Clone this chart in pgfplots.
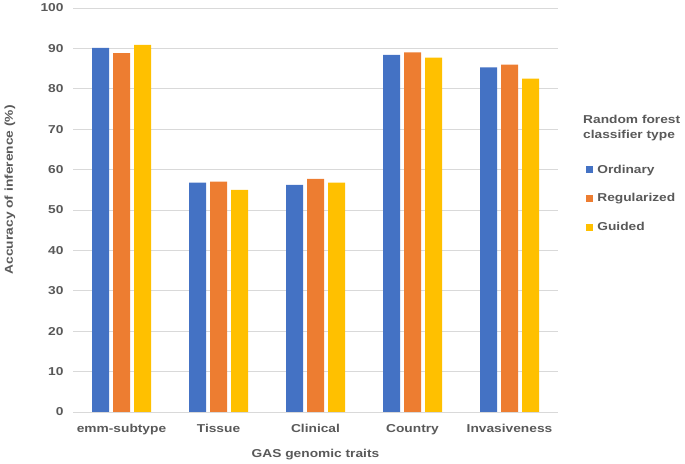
\documentclass[border=0pt]{standalone}
\usepackage{pgfplots}
\pgfplotsset{compat=1.18}
\usepackage{fontspec}
\setmainfont{Liberation Sans}[FakeStretch=1.2]
\definecolor{cblue}{HTML}{4472C4}
\definecolor{corange}{HTML}{ED7D31}
\definecolor{cyellow}{HTML}{FFC000}
\definecolor{cgrid}{HTML}{D9D9D9}
\definecolor{ctext}{HTML}{595959}
\newcommand{\lf}{\bfseries\fontsize{11.5}{13.5}\selectfont}
\begin{document}
\begin{tikzpicture}
\path[use as bounding box] (0bp,0bp) rectangle (685bp,464bp);
\begin{axis}[
  at={(73bp,52bp)}, anchor=south west,
  scale only axis, width=485bp, height=404bp,
  xmin=-0.5, xmax=4.5, ymin=0, ymax=100,
  ybar=4bp, bar width=17bp,
  axis x line*=bottom, axis y line*=left,
  y axis line style={draw=none},
  x axis line style={draw=cgrid, line width=0.75bp, -},
  major tick length=0pt,
  ymajorgrids, grid style={cgrid, line width=0.75bp},
  ytick={0,10,...,100},
  xtick={0,1,2,3,4},
  xticklabels={emm-subtype,Tissue,Clinical,Country,Invasiveness},
  /pgf/number format/assume math mode=true,
  ticklabel style={font=\lf, text=ctext},
  yticklabel style={xshift=-6bp},
  xticklabel style={yshift=-9bp},
  xlabel={GAS genomic traits},
  ylabel={Accuracy of inference (\%)},
  label style={font=\lf, text=ctext},
  xlabel style={at={(axis description cs:0.5,-0.0)}, anchor=center, yshift=-43bp},
  ylabel style={at={(axis description cs:-0.13,0.55)}, anchor=center, rotate=0},
  legend style={at={(axis description cs:1.058,0.615)}, anchor=north west, draw=none, fill=none,
    font=\lf, text=ctext, inner sep=0pt,
    row sep=17bp, nodes={inner sep=1bp, anchor=west}},
  legend cell align=left,
  legend image code/.code={\fill[#1] (0bp,-3.5bp) rectangle (7bp,3.5bp); \path (10bp,0bp);},
]
\addplot[fill=cblue, draw=none] coordinates {(0,90.1) (1,56.8) (2,56.2) (3,88.4) (4,85.3)};
\addplot[fill=corange, draw=none] coordinates {(0,88.8) (1,57.0) (2,57.7) (3,89.0) (4,86.0)};
\addplot[fill=cyellow, draw=none] coordinates {(0,90.9) (1,55.0) (2,56.8) (3,87.7) (4,82.5)};
\legend{Ordinary,Regularized,Guided}
\end{axis}
\node[anchor=west, text=ctext, font=\lf, inner sep=0pt] at (583bp,345bp) {Random forest};
\node[anchor=west, text=ctext, font=\lf, inner sep=0pt] at (583bp,328bp) {classifier type};
\end{tikzpicture}
\end{document}
